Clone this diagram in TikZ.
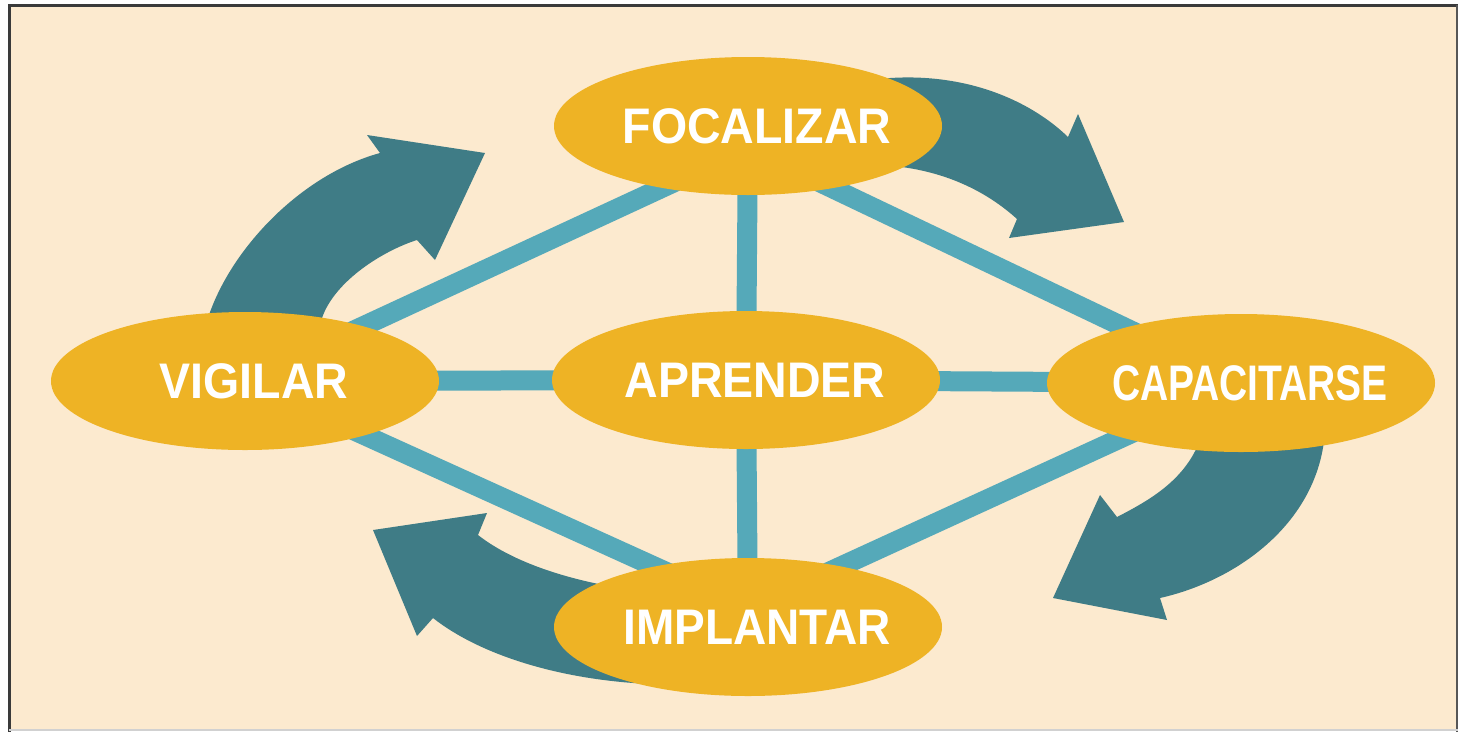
\documentclass[tikz,border=0pt]{standalone}
\usepackage{fontspec}
\setmainfont{Liberation Sans}
\usetikzlibrary{shapes.geometric,calc}
\pgfdeclarelayer{back}
\pgfdeclarelayer{mid}
\pgfsetlayers{back,mid,main}
\definecolor{bgc}{HTML}{FCEACF}
\definecolor{gold}{HTML}{EEB325}
\definecolor{linkc}{HTML}{55A9B9}
\definecolor{arrc}{HTML}{3F7C86}
\definecolor{framec}{HTML}{3A3A3A}
\newcommand{\ovaltext}[2]{\makebox[0pt]{\kern18pt\scalebox{#1}[1]{#2}}}
\begin{document}
\begin{tikzpicture}[x=1pt,y=-1pt,
  oval/.style={ellipse, fill=gold, minimum width=388pt, minimum height=138pt,
    inner sep=0pt, text=white, font=\fontsize{50}{60}\selectfont\bfseries},
  link/.style={draw=linkc, line width=20pt},
  bigarrow/.style={fill=arrc}]
\useasboundingbox (0,0) rectangle (1461,732);
\begin{pgfonlayer}{back}
  \fill[white] (0,0) rectangle (1461,732);
  \fill[bgc] (10,6) rectangle (1457,730);
  \draw[framec, line width=3pt] (8,5) -- (1458,5);
  \draw[framec, line width=3pt] (9.5,5) -- (9.5,732);
  \draw[framec!85, line width=2.5pt] (1457,5) -- (1457,732);
  \draw[black!18, line width=2pt] (9,730) -- (1458,730);
  % arrow top-left (VIGILAR -> FOCALIZAR)
  \fill[arrc] (208,318) .. controls (230,250) and (300,175) .. (380,153)
    -- (367,135) -- (485,153) -- (435,260) -- (417,240)
    .. controls (385,250) and (335,280) .. (322,318)
    -- (325,345) -- (205,345) -- cycle;
  % arrow top-right (FOCALIZAR -> CAPACITARSE)
  \fill[arrc] (870,80) .. controls (960,68) and (1030,100) .. (1068,137)
    -- (1078,114) -- (1124,222) -- (1009,238) -- (1017,219)
    .. controls (985,190) and (940,168) .. (880,165)
    -- cycle;
  % arrow right (CAPACITARSE -> IMPLANTAR)
  \fill[arrc] (1325,430) .. controls (1320,520) and (1240,580) .. (1160,598)
    -- (1167,620) -- (1053,598) -- (1100,495) -- (1117,517)
    .. controls (1150,500) and (1185,480) .. (1200,440)
    -- cycle;
  % arrow bottom-left (IMPLANTAR -> VIGILAR)
  \fill[arrc] (650,684) .. controls (560,680) and (480,655) .. (433,618)
    -- (417,636) -- (373,530) -- (487,513) -- (478,535)
    .. controls (510,560) and (560,578) .. (620,588)
    -- cycle;
\end{pgfonlayer}

\node[oval] (foc) at (748,126) {\ovaltext{0.93}{FOCALIZAR}};
\node[oval] (vig) at (245,381) {\ovaltext{0.93}{VIGILAR}};
\node[oval] (apr) at (746,380) {\ovaltext{0.93}{APRENDER}};
\node[oval] (cap) at (1241,383) {\ovaltext{0.78}{CAPACITARSE}};
\node[oval] (imp) at (748,627) {\ovaltext{0.92}{IMPLANTAR}};

\begin{pgfonlayer}{mid}
  \draw[link] (vig.center) -- ($(foc.center)+(0,22)$);
  \draw[link] (cap.center) -- ($(foc.center)+(0,22)$);
  \draw[link] (vig.center) -- ($(imp.center)+(0,-18)$);
  \draw[link] (cap.center) -- ($(imp.center)+(0,-18)$);
  \draw[link] (foc.center) -- (apr.center);
  \draw[link] (apr.center) -- (imp.center);
  \draw[link] (vig.center) -- (apr.center);
  \draw[link] (apr.center) -- (cap.center);
\end{pgfonlayer}
\end{tikzpicture}
\end{document}
